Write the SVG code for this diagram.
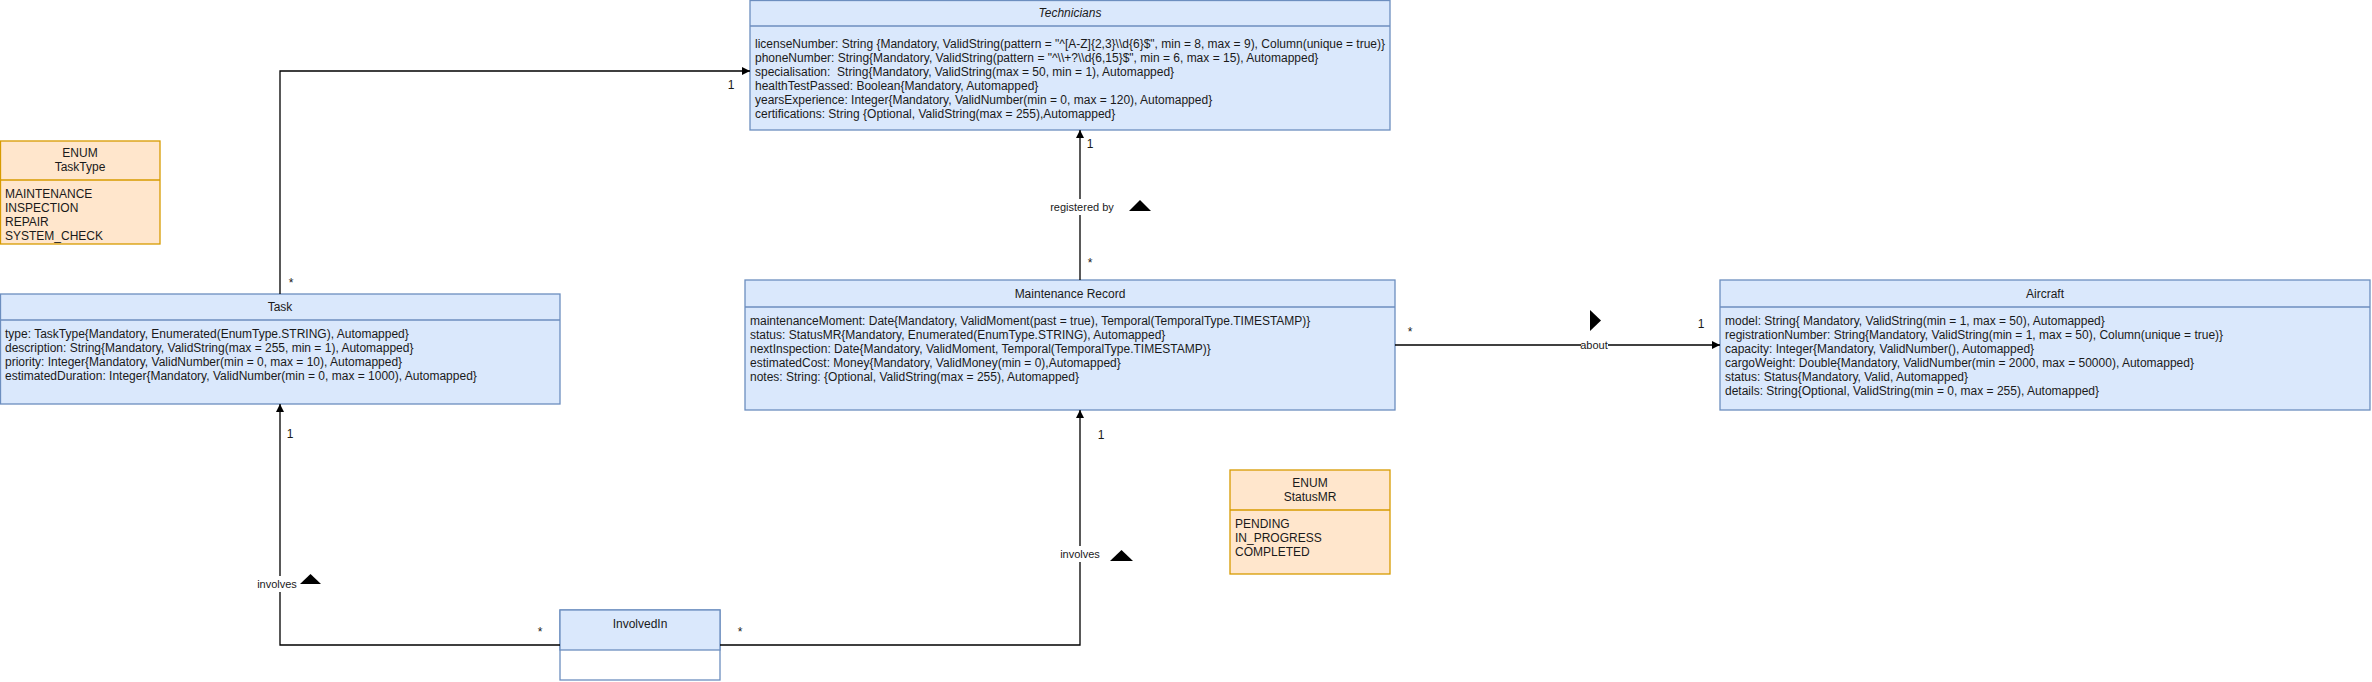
<svg xmlns="http://www.w3.org/2000/svg" width="2372" height="682" viewBox="0 0 2372 682">
<defs>
<marker id="arr" markerUnits="userSpaceOnUse" markerWidth="10" markerHeight="10" refX="8" refY="4" orient="auto">
<path d="M0,0 L8,4 L0,8 z" fill="#000"/>
</marker>
<style>
.cls{fill:#dae8fc;stroke:#6c8ebf;stroke-width:1.3}
.enm{fill:#ffe6cc;stroke:#d79b00;stroke-width:1.3}
.t{font-family:"Liberation Sans",Arial,sans-serif;font-size:12px;fill:#1a1a1a}
.c{text-anchor:middle}
.lbl{font-family:"Liberation Sans",Arial,sans-serif;font-size:11px;fill:#1a1a1a;text-anchor:middle}
.mul{font-family:"Liberation Sans",Arial,sans-serif;font-size:12px;fill:#1a1a1a;text-anchor:middle}
.edge{fill:none;stroke:#000;stroke-width:1.3}
</style>
</defs>
<rect width="2372" height="682" fill="#fff"/>

<g id="technicians">
<rect class="cls" x="750" y="0.5" width="640" height="129.5"/>
<line class="cls" x1="750" y1="26" x2="1390" y2="26"/>
<text class="t c" x="1070" y="17" font-style="italic">Technicians</text>
<text class="t" x="755" y="48">licenseNumber: String {Mandatory, ValidString(pattern = "^[A-Z]{2,3}\\d{6}$", min = 8, max = 9), Column(unique = true)}</text>
<text class="t" x="755" y="62">phoneNumber: String{Mandatory, ValidString(pattern = "^\\+?\\d{6,15}$", min = 6, max = 15), Automapped}</text>
<text class="t" x="755" y="76" xml:space="preserve">specialisation:  String{Mandatory, ValidString(max = 50, min = 1), Automapped}</text>
<text class="t" x="755" y="90">healthTestPassed: Boolean{Mandatory, Automapped}</text>
<text class="t" x="755" y="104">yearsExperience: Integer{Mandatory, ValidNumber(min = 0, max = 120), Automapped}</text>
<text class="t" x="755" y="118">certifications: String {Optional, ValidString(max = 255),Automapped}</text>
</g>

<g id="tasktype">
<rect class="enm" x="0.5" y="141" width="159.5" height="103"/>
<line class="enm" x1="0.5" y1="180" x2="160" y2="180"/>
<text class="t c" x="80" y="157">ENUM</text>
<text class="t c" x="80" y="171">TaskType</text>
<text class="t" x="5" y="198">MAINTENANCE</text>
<text class="t" x="5" y="212">INSPECTION</text>
<text class="t" x="5" y="226">REPAIR</text>
<text class="t" x="5" y="240">SYSTEM_CHECK</text>
</g>

<g id="task">
<rect class="cls" x="0.5" y="294" width="559.5" height="110"/>
<line class="cls" x1="0.5" y1="320" x2="560" y2="320"/>
<text class="t c" x="280" y="311">Task</text>
<text class="t" x="5" y="338">type: TaskType{Mandatory, Enumerated(EnumType.STRING), Automapped}</text>
<text class="t" x="5" y="352">description: String{Mandatory, ValidString(max = 255, min = 1), Automapped}</text>
<text class="t" x="5" y="366">priority: Integer{Mandatory, ValidNumber(min = 0, max = 10), Automapped}</text>
<text class="t" x="5" y="380">estimatedDuration: Integer{Mandatory, ValidNumber(min = 0, max = 1000), Automapped}</text>
</g>

<g id="maintenance-record">
<rect class="cls" x="745" y="280" width="650" height="130"/>
<line class="cls" x1="745" y1="307" x2="1395" y2="307"/>
<text class="t c" x="1070" y="298">Maintenance Record</text>
<text class="t" x="750" y="325">maintenanceMoment: Date{Mandatory, ValidMoment(past = true), Temporal(TemporalType.TIMESTAMP)}</text>
<text class="t" x="750" y="339">status: StatusMR{Mandatory, Enumerated(EnumType.STRING), Automapped}</text>
<text class="t" x="750" y="353">nextInspection: Date{Mandatory, ValidMoment, Temporal(TemporalType.TIMESTAMP)}</text>
<text class="t" x="750" y="367">estimatedCost: Money{Mandatory, ValidMoney(min = 0),Automapped}</text>
<text class="t" x="750" y="381">notes: String: {Optional, ValidString(max = 255), Automapped}</text>
</g>

<g id="aircraft">
<rect class="cls" x="1720" y="280" width="650" height="130"/>
<line class="cls" x1="1720" y1="307" x2="2370" y2="307"/>
<text class="t c" x="2045" y="298">Aircraft</text>
<text class="t" x="1725" y="325">model: String{ Mandatory, ValidString(min = 1, max = 50), Automapped}</text>
<text class="t" x="1725" y="339">registrationNumber: String{Mandatory, ValidString(min = 1, max = 50), Column(unique = true)}</text>
<text class="t" x="1725" y="353">capacity: Integer{Mandatory, ValidNumber(), Automapped}</text>
<text class="t" x="1725" y="367">cargoWeight: Double{Mandatory, ValidNumber(min = 2000, max = 50000), Automapped}</text>
<text class="t" x="1725" y="381">status: Status{Mandatory, Valid, Automapped}</text>
<text class="t" x="1725" y="395">details: String{Optional, ValidString(min = 0, max = 255), Automapped}</text>
</g>

<g id="statusmr">
<rect class="enm" x="1230" y="470" width="160" height="104"/>
<line class="enm" x1="1230" y1="510" x2="1390" y2="510"/>
<text class="t c" x="1310" y="487">ENUM</text>
<text class="t c" x="1310" y="501">StatusMR</text>
<text class="t" x="1235" y="528">PENDING</text>
<text class="t" x="1235" y="542">IN_PROGRESS</text>
<text class="t" x="1235" y="556">COMPLETED</text>
</g>

<g id="involvedin">
<rect x="560" y="610" width="160" height="70" fill="#fff" stroke="#6c8ebf" stroke-width="1.3"/>
<rect class="cls" x="560" y="610" width="160" height="40"/>
<text class="t c" x="640" y="628">InvolvedIn</text>
</g>

<g id="connectors">
<path class="edge" d="M280,294 V71 H750" marker-end="url(#arr)"/>
<text class="mul" x="291" y="287">*</text>
<text class="mul" x="731" y="89">1</text>

<path class="edge" d="M1080,280 V130" marker-end="url(#arr)"/>
<rect x="1052" y="199" width="60" height="16" fill="#fff"/>
<text class="lbl" x="1082" y="211">registered by</text>
<path d="M1129,211 L1140,200 L1151,211 z" fill="#000"/>
<text class="mul" x="1090" y="148">1</text>
<text class="mul" x="1090" y="267">*</text>

<path class="edge" d="M1395,345 H1720" marker-end="url(#arr)"/>
<rect x="1581" y="339" width="27" height="12" fill="#fff"/>
<text class="lbl" x="1594" y="349">about</text>
<path d="M1590,310 L1601,320.5 L1590,331 z" fill="#000"/>
<text class="mul" x="1410" y="336">*</text>
<text class="mul" x="1701" y="328">1</text>

<path class="edge" d="M560,645 H280 V404" marker-end="url(#arr)"/>
<rect x="256" y="576" width="42" height="16" fill="#fff"/>
<text class="lbl" x="277" y="588">involves</text>
<path d="M300,584 L310.5,574 L321,584 z" fill="#000"/>
<text class="mul" x="290" y="438">1</text>
<text class="mul" x="540" y="636">*</text>

<path class="edge" d="M720,645 H1080 V410" marker-end="url(#arr)"/>
<rect x="1059" y="546" width="42" height="16" fill="#fff"/>
<text class="lbl" x="1080" y="558">involves</text>
<path d="M1110,561 L1121.5,550 L1133,561 z" fill="#000"/>
<text class="mul" x="1101" y="439">1</text>
<text class="mul" x="740" y="636">*</text>
</g>
</svg>
